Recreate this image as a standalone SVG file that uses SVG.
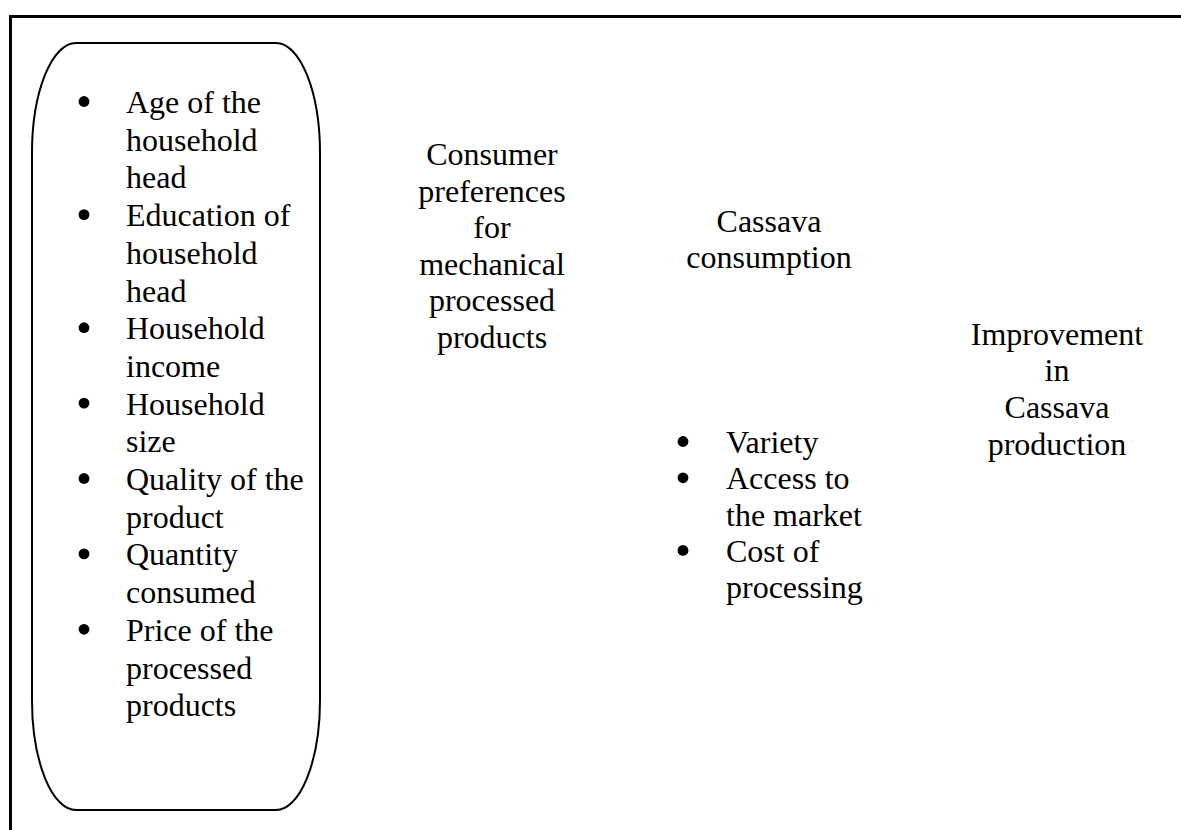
<svg xmlns="http://www.w3.org/2000/svg" width="1181" height="830" viewBox="0 0 1181 830">
<style>
  text { font-family: "Liberation Serif", "Times New Roman", serif; font-size: 32px; fill: #000; }
  .c { text-anchor: middle; }
  .dot { fill: #000; }
  .shape { fill: #fff; stroke: #000; stroke-width: 2; }
</style>
<rect x="0" y="0" width="1181" height="830" fill="#fff"/>
<g id="frame">
  <rect x="10.5" y="16.5" width="1200" height="900" fill="none" stroke="#000" stroke-width="3"/>
</g>
<g id="connectors"></g>
<g id="factors">
  <path class="shape" d="M76,43 H276 A44 110 0 0 1 320 153 V700 A44 110 0 0 1 276 810 H76 A44 110 0 0 1 32 700 V153 A44 110 0 0 1 76 43 Z"/>
  <circle class="dot" cx="84" cy="101.5" r="5.4"/>
  <text x="126" y="113">Age of the</text>
  <text x="126" y="150.7">household</text>
  <text x="126" y="188.4">head</text>
  <circle class="dot" cx="84" cy="214.6" r="5.4"/>
  <text x="126" y="226.1">Education of</text>
  <text x="126" y="263.8">household</text>
  <text x="126" y="301.5">head</text>
  <circle class="dot" cx="84" cy="327.7" r="5.4"/>
  <text x="126" y="339.2">Household</text>
  <text x="126" y="376.9">income</text>
  <circle class="dot" cx="84" cy="403.1" r="5.4"/>
  <text x="126" y="414.6">Household</text>
  <text x="126" y="452.3">size</text>
  <circle class="dot" cx="84" cy="478.5" r="5.4"/>
  <text x="126" y="490">Quality of the</text>
  <text x="126" y="527.7">product</text>
  <circle class="dot" cx="84" cy="553.9" r="5.4"/>
  <text x="126" y="565.4">Quantity</text>
  <text x="126" y="603.1">consumed</text>
  <circle class="dot" cx="84" cy="629.3" r="5.4"/>
  <text x="126" y="640.8">Price of the</text>
  <text x="126" y="678.5">processed</text>
  <text x="126" y="716.2">products</text>
</g>
<g id="preferences">
  <text class="c" x="492" y="165">Consumer</text>
  <text class="c" x="492" y="201.5">preferences</text>
  <text class="c" x="492" y="238">for</text>
  <text class="c" x="492" y="274.5">mechanical</text>
  <text class="c" x="492" y="311">processed</text>
  <text class="c" x="492" y="347.5">products</text>
</g>
<g id="consumption">
  <text class="c" x="769" y="231.5">Cassava</text>
  <text class="c" x="769" y="268">consumption</text>
</g>
<g id="constraints">
  <circle class="dot" cx="683" cy="441.5" r="5.4"/>
  <text x="726" y="453">Variety</text>
  <circle class="dot" cx="683" cy="477.8" r="5.4"/>
  <text x="726" y="489.3">Access to</text>
  <text x="726" y="525.6">the market</text>
  <circle class="dot" cx="683" cy="550.4" r="5.4"/>
  <text x="726" y="561.9">Cost of</text>
  <text x="726" y="598.2">processing</text>
</g>
<g id="improvement">
  <text class="c" x="1057" y="344.5">Improvement</text>
  <text class="c" x="1057" y="381.2">in</text>
  <text class="c" x="1057" y="417.9">Cassava</text>
  <text class="c" x="1057" y="454.6">production</text>
</g>
</svg>
